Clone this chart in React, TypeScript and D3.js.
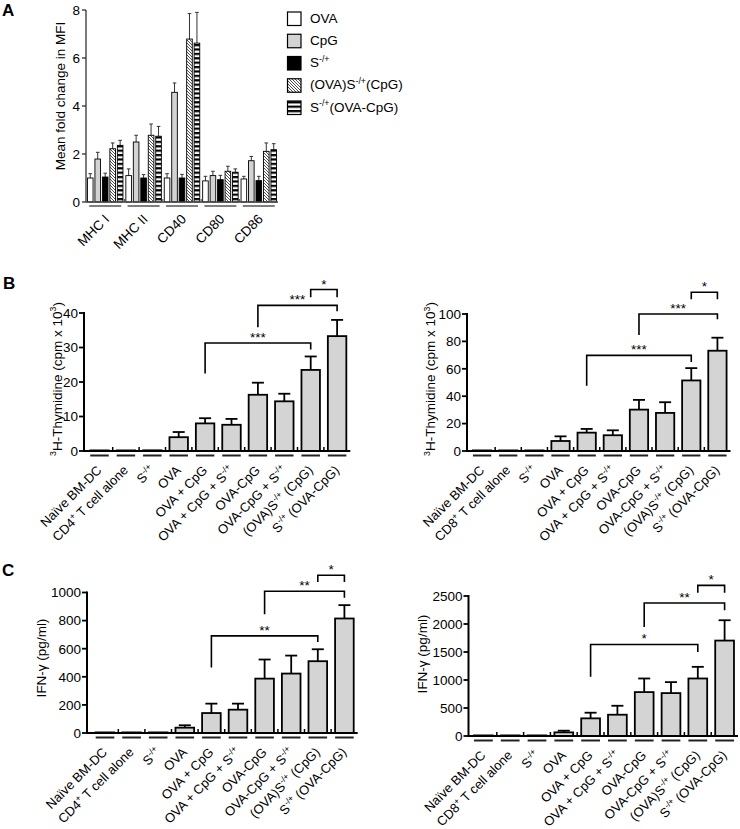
import React from 'react';
import * as d3 from 'd3';

// ---------- DATA ----------
const markersA = ["MHC I", "MHC II", "CD40", "CD80", "CD86"];
const seriesA = ["OVA", "CpG", "S^{-/+}", "(OVA)S^{-/+}(CpG)", "S^{-/+}(OVA-CpG)"];
const meanOVA = [1.0, 1.1, 1.0, 0.88, 0.96];
const semOVA = [0.18, 0.28, 0.18, 0.19, 0.11];
const meanCpG = [1.79, 2.5, 4.57, 1.1, 1.72];
const semCpG = [0.28, 0.28, 0.39, 0.18, 0.18];
const meanS = [1.04, 1.0, 1.0, 0.93, 0.89];
const semS = [0.16, 0.14, 0.15, 0.18, 0.18];
const meanOvaSCpg = [2.22, 2.78, 6.79, 1.28, 2.11];
const semOvaSCpg = [0.24, 0.47, 1.06, 0.21, 0.35];
const meanSOvaCpg = [2.36, 2.74, 6.62, 1.24, 2.18];
const semSOvaCpg = [0.21, 0.41, 1.28, 0.14, 0.25];
const ticksA = [0, 2, 4, 6, 8];

const groupsCD4 = ["Naïve BM-DC", "CD4^{+} T cell alone", "S^{-/+}", "OVA", "OVA + CpG", "OVA + CpG + S^{-/+}", "OVA-CpG", "OVA-CpG + S^{-/+}", "(OVA)S^{-/+} (CpG)", "S^{-/+} (OVA-CpG)"];
const groupsCD8 = ["Naïve BM-DC", "CD8^{+} T cell alone", "S^{-/+}", "OVA", "OVA + CpG", "OVA + CpG + S^{-/+}", "OVA-CpG", "OVA-CpG + S^{-/+}", "(OVA)S^{-/+} (CpG)", "S^{-/+} (OVA-CpG)"];

const thymCD4 = [0.1, 0, 0.2, 4.0, 8.0, 7.6, 16.3, 14.4, 23.5, 33.3];
const thymCD4Sem = [0, 0, 0, 1.5, 1.5, 1.7, 3.5, 2.2, 3.9, 4.7];
const thymCD8 = [0.3, 0.2, 0.3, 7.3, 13.4, 11.5, 30.2, 27.8, 51.5, 73.2];
const thymCD8Sem = [0, 0, 0, 3.4, 2.7, 3.6, 7.1, 7.8, 9.0, 9.5];
const ifnCD4 = [0, 0, 0, 38, 142, 166, 387, 423, 511, 815];
const ifnCD4Sem = [0, 0, 0, 17, 67, 43, 136, 128, 85, 95];
const ifnCD8 = [0, 0, 0, 65, 315, 380, 784, 766, 1027, 1704];
const ifnCD8Sem = [0, 0, 0, 30, 101, 160, 243, 196, 208, 363];

const ticksThymCD4 = [0, 10, 20, 30, 40];
const ticksThymCD8 = [0, 20, 40, 60, 80, 100];
const ticksIfnCD4 = [0, 200, 400, 600, 800, 1000];
const ticksIfnCD8 = [0, 500, 1000, 1500, 2000, 2500];

// significance brackets: from/to category index, bracket level, leg ends (data units)
const sigThymCD4 = [
  { a: 4, b: 8, level: 31.3, ya: 22.5, yb: 29.4, label: "***" },
  { a: 6, b: 9, level: 42.2, ya: 35.9, yb: 40.5, label: "***" },
  { a: 8, b: 9, level: 46.8, ya: 44.6, yb: 44.6, label: "*" },
];
const sigThymCD8 = [
  { a: 4, b: 8, level: 69.8, ya: 47.6, yb: 64.9, label: "***" },
  { a: 6, b: 9, level: 100, ya: 84.6, yb: 96.1, label: "***" },
  { a: 8, b: 9, level: 115.9, ya: 110.7, yb: 110.7, label: "*" },
];
const sigIfnCD4 = [
  { a: 4, b: 8, level: 691, ya: 466, yb: 648, label: "**" },
  { a: 6, b: 9, level: 1009, ya: 845, yb: 962, label: "**" },
  { a: 8, b: 9, level: 1123, ya: 1075, yb: 1075, label: "*" },
];
const sigIfnCD8 = [
  { a: 4, b: 8, level: 1634, ya: 1057, yb: 1502, label: "*" },
  { a: 6, b: 9, level: 2375, ya: 1947, yb: 2245, label: "**" },
  { a: 8, b: 9, level: 2690, ya: 2560, yb: 2560, label: "*" },
];

// ---------- STYLE ----------
const FONT = "'Liberation Sans', Arial, Helvetica, sans-serif";
const FS = 13.5;
const FSC = 13;
const seriesFill = ["#ffffff", "#d3d3d3", "#000000", "url(#hatch)", "url(#stripe)"];

function Rich({ s, fs }: { s: string; fs: number }) {
  const parts = s.split(/\^\{([^}]*)\}/);
  let cur = 0;
  const out: any[] = [];
  parts.forEach((p, i) => {
    const sup = i % 2 === 1;
    const target = sup ? -fs * 0.4 : 0;
    if (p === "") return;
    const dy = target - cur;
    cur = target;
    out.push(
      <tspan key={i} dy={dy} fontSize={sup ? fs * 0.65 : fs}>{p}</tspan>
    );
  });
  return <>{out}</>;
}

type Layout = { ax: number; x0: number; x1: number; yB: number; yT: number; lx: number; ly: number };

function BarPanel({ cats, means, sems, ticks, brackets, L, yLabel }: any) {
  const Ly: Layout = L;
  const x = d3.scaleBand<number>().domain(d3.range(cats.length)).range([Ly.x0, Ly.x1]).paddingInner(0.3).paddingOuter(0.15);
  const y = d3.scaleLinear().domain([0, ticks[ticks.length - 1]]).range([Ly.yB, Ly.yT]);
  const bw = x.bandwidth();
  const step = x.step();
  const cx = (i: number) => (x(i) as number) + bw / 2;
  return (
    <g>
      {means.map((m: number, i: number) => {
        const top = y(m);
        const h = Math.max(0.6, Ly.yB - top);
        return <rect key={"b" + i} x={x(i)} y={Ly.yB - h} width={bw} height={h} fill="#d4d4d4" stroke="#000" strokeWidth={1.8} />;
      })}
      {means.map((m: number, i: number) => {
        const s = sems[i];
        if (!s) return null;
        const yt = y(m + s);
        return (
          <g key={"e" + i} stroke="#000" strokeWidth={1.8}>
            <line x1={cx(i)} x2={cx(i)} y1={y(m)} y2={yt} />
            <line x1={cx(i) - 6} x2={cx(i) + 6} y1={yt} y2={yt} />
          </g>
        );
      })}
      {/* axes */}
      <line x1={Ly.ax} x2={Ly.ax} y1={Ly.yB} y2={Ly.yT - 1} stroke="#000" strokeWidth={2} />
      <line x1={Ly.ax - 1} x2={Ly.x1} y1={Ly.yB} y2={Ly.yB} stroke="#000" strokeWidth={2} />
      {ticks.map((t: number) => (
        <g key={"t" + t}>
          <line x1={Ly.ax - 5} x2={Ly.ax} y1={y(t)} y2={y(t)} stroke="#000" strokeWidth={1.8} />
          <text x={Ly.ax - 6} y={y(t)} dy="0.36em" textAnchor="end" fontSize={FS} fontFamily={FONT}>{t}</text>
        </g>
      ))}
      {cats.map((_: string, i: number) => i === 0 ? null : (
        <line key={"xt" + i} x1={(x(i) as number) - step * 0.15} x2={(x(i) as number) - step * 0.15} y1={Ly.yB} y2={Ly.yB - 4} stroke="#000" strokeWidth={1.5} />
      ))}
      {cats.map((_: string, i: number) => (
        <line key={"u" + i} x1={x(i)} x2={(x(i) as number) + bw} y1={Ly.yB + 4.5} y2={Ly.yB + 4.5} stroke="#222" strokeWidth={2} />
      ))}
      {cats.map((c: string, i: number) => (
        <text key={"c" + i} transform={`translate(${cx(i) + 3},${Ly.yB + 20}) rotate(-45)`} textAnchor="end" fontSize={FSC} fontFamily={FONT}>
          <Rich s={c} fs={FSC} />
        </text>
      ))}
      {/* brackets */}
      {brackets.map((b: any, k: number) => {
        const xa = cx(b.a), xb = cx(b.b);
        const yl = y(b.level);
        return (
          <g key={"s" + k}>
            <path d={`M${xa},${y(b.ya)}V${yl}H${xb}V${y(b.yb)}`} fill="none" stroke="#000" strokeWidth={1.6} />
            <text x={(xa + xb) / 2} y={yl - 1} textAnchor="middle" fontSize={FS} fontFamily={FONT}>{b.label}</text>
          </g>
        );
      })}
      <text transform={`translate(${Ly.lx},${Ly.ly}) rotate(-90)`} textAnchor="middle" fontSize={FS} fontFamily={FONT}>
        <Rich s={yLabel} fs={FS} />
      </text>
    </g>
  );
}

function PanelA() {
  const means = [meanOVA, meanCpG, meanS, meanOvaSCpg, meanSOvaCpg];
  const sems = [semOVA, semCpG, semS, semOvaSCpg, semSOvaCpg];
  const ax = 86, yB = 202, yT = 10;
  const x = d3.scaleBand<string>().domain(markersA).range([86, 278]);
  const xi = d3.scaleBand<number>().domain(d3.range(seriesA.length)).range([-17.75, 17.75]).paddingInner(0.25);
  const y = d3.scaleLinear().domain([0, 8]).range([yB, yT]);
  const gc = (m: string) => (x(m) as number) + x.bandwidth() / 2;
  const bw = xi.bandwidth();
  return (
    <g>
      {markersA.map((m, gi) => (
        <g key={m}>
          {seriesA.map((s, si) => {
            const v = means[si][gi];
            const bx = gc(m) + (xi(si) as number);
            const top = y(v);
            const et = y(v + sems[si][gi]);
            const ecx = bx + bw / 2;
            return (
              <g key={s}>
                <line x1={ecx} x2={ecx} y1={top} y2={et} stroke="#333" strokeWidth={1} />
                <line x1={ecx - 1.8} x2={ecx + 1.8} y1={et} y2={et} stroke="#333" strokeWidth={1} />
                <rect x={bx} y={top} width={bw} height={yB - top} fill={seriesFill[si]} stroke="#000" strokeWidth={0.9} />
              </g>
            );
          })}
          <line x1={gc(m) - 16} x2={gc(m) + 16} y1={yB + 4} y2={yB + 4} stroke="#555" strokeWidth={1.5} />
          <text transform={`translate(${gc(m) + 5},${yB + 18}) rotate(-45)`} textAnchor="end" fontSize={FS} fontFamily={FONT}>{m}</text>
          {gi > 0 ? <line x1={x(m)} x2={x(m)} y1={yB} y2={yB - 3} stroke="#444" strokeWidth={1} /> : null}
        </g>
      ))}
      <line x1={ax} x2={ax} y1={yB} y2={yT} stroke="#222" strokeWidth={1.2} />
      <line x1={ax} x2={278} y1={yB} y2={yB} stroke="#444" strokeWidth={1.5} />
      {ticksA.map((t) => (
        <g key={t}>
          <line x1={ax - 4} x2={ax} y1={y(t)} y2={y(t)} stroke="#222" strokeWidth={1.2} />
          <text x={ax - 6} y={y(t)} dy="0.36em" textAnchor="end" fontSize={FS} fontFamily={FONT}>{t}</text>
        </g>
      ))}
      <text transform={`translate(65,96) rotate(-90)`} textAnchor="middle" fontSize={FS} fontFamily={FONT}>Mean fold change in MFI</text>
      {/* legend */}
      {seriesA.map((s, si) => {
        const ly = d3.scaleLinear().domain([0, 4]).range([12, 101])(si);
        return (
          <g key={"l" + si}>
            <rect x={287.5} y={ly} width={13.5} height={13.5} fill={seriesFill[si]} stroke="#000" strokeWidth={1.2} />
            <text x={310} y={ly + 10.5} fontSize={FS} fontFamily={FONT}><Rich s={s} fs={FS} /></text>
          </g>
        );
      })}
    </g>
  );
}

export default function App() {
  return (
    <svg width={740} height={829} style={{ position: 'absolute', left: 0, top: 0, background: '#fff' }} fontFamily={FONT}>
      <defs>
        <pattern id="hatch" patternUnits="userSpaceOnUse" width={3} height={3}>
          <rect width={3} height={3} fill="#fff" />
          <path d="M0,0L3,3M-1,2L1,4M2,-1L4,1" stroke="#222" strokeWidth={0.8} />
        </pattern>
        <pattern id="stripe" patternUnits="userSpaceOnUse" width={4} height={4.4}>
          <rect width={4} height={4.4} fill="#fff" />
          <rect width={4} height={2.2} fill="#000" />
        </pattern>
      </defs>
      <rect width={740} height={829} fill="#fff" />
      <text x={2} y={16} fontSize={17} fontWeight="bold" fontFamily={FONT}>A</text>
      <text x={3} y={289} fontSize={17} fontWeight="bold" fontFamily={FONT}>B</text>
      <text x={2} y={576} fontSize={17} fontWeight="bold" fontFamily={FONT}>C</text>
      <PanelA />
      <BarPanel cats={groupsCD4} means={thymCD4} sems={thymCD4Sem} ticks={ticksThymCD4} brackets={sigThymCD4}
        L={{ ax: 84, x0: 86.3, x1: 350.3, yB: 451, yT: 313, lx: 61.5, ly: 379 }} yLabel="^{3}H-Thymidine (cpm x 10^{3})" />
      <BarPanel cats={groupsCD8} means={thymCD8} sems={thymCD8Sem} ticks={ticksThymCD8} brackets={sigThymCD8}
        L={{ ax: 467, x0: 469, x1: 730.5, yB: 451, yT: 314, lx: 435, ly: 379 }} yLabel="^{3}H-Thymidine (cpm x 10^{3})" />
      <BarPanel cats={groupsCD4} means={ifnCD4} sems={ifnCD4Sem} ticks={ticksIfnCD4} brackets={sigIfnCD4}
        L={{ ax: 87, x0: 91.7, x1: 357.7, yB: 733, yT: 592.5, lx: 46, ly: 658 }} yLabel="IFN-γ (pg/ml)" />
      <BarPanel cats={groupsCD8} means={ifnCD8} sems={ifnCD8Sem} ticks={ticksIfnCD8} brackets={sigIfnCD8}
        L={{ ax: 468.5, x0: 470, x1: 738, yB: 736, yT: 596, lx: 426.5, ly: 654 }} yLabel="IFN-γ (pg/ml)" />
    </svg>
  );
}
